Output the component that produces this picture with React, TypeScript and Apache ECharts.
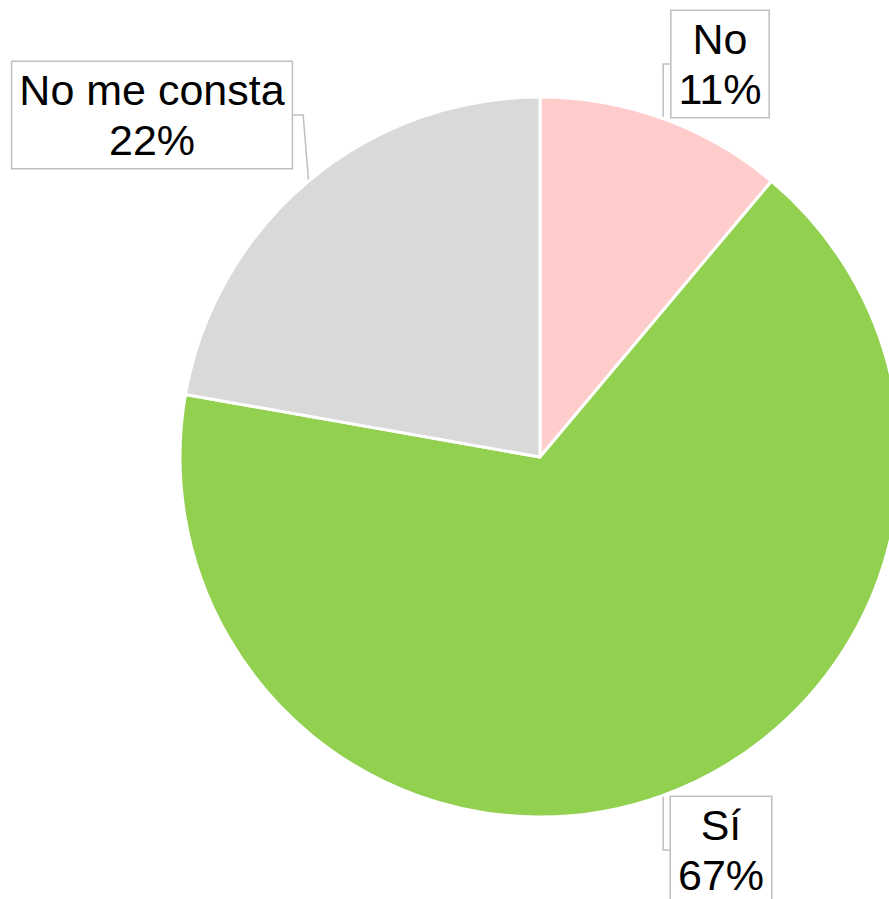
import React, { useEffect, useRef } from "react";
import * as echarts from "echarts";

const categories = ["No", "Sí", "No me consta"];
const values = [1, 6, 2];
const colors = ["#FFCCCC", "#92D050", "#D9D9D9"];
// label box centres (layout only)
const labelCenters: [number, number][] = [
  [720, 64],
  [721, 850],
  [152, 115],
];

export default function App() {
  const ref = useRef<HTMLDivElement>(null);
  useEffect(() => {
    if (!ref.current) return;
    const chart = echarts.init(ref.current, undefined, { renderer: "svg" });
    chart.setOption({
      animation: false,
      backgroundColor: "#ffffff",
      series: [
        {
          type: "pie",
          center: [540, 457],
          radius: [0, 360],
          startAngle: 90,
          clockwise: true,
          avoidLabelOverlap: false,
          itemStyle: { borderColor: "#ffffff", borderWidth: 3 },
          label: {
            show: true,
            position: "outside",
            formatter: (p: any) => `${p.name}\n${Math.round(p.percent)}%`,
            fontFamily: "'Liberation Sans', Arial, sans-serif",
            fontSize: 43,
            lineHeight: 50,
            color: "#000000",
            backgroundColor: "#ffffff",
            borderColor: "#BFBFBF",
            borderWidth: 1.5,
            padding: [3, 7, 3, 7],
            align: "center",
          },
          labelLine: {
            show: true,
            length: 10,
            length2: 10,
            lineStyle: { color: "#BFBFBF", width: 1.5 },
          },
          labelLayout: (params: any) => {
            const c = labelCenters[params.dataIndex];
            return { x: c[0], y: c[1], align: "center", verticalAlign: "middle" };
          },
          data: categories.map((n, i) => ({
            name: n,
            value: values[i],
            itemStyle: { color: colors[i] },
          })),
        },
      ],
    });
    return () => chart.dispose();
  }, []);
  return (
    <div
      ref={ref}
      style={{ position: "fixed", left: 0, top: 0, width: 889, height: 899 }}
    />
  );
}
